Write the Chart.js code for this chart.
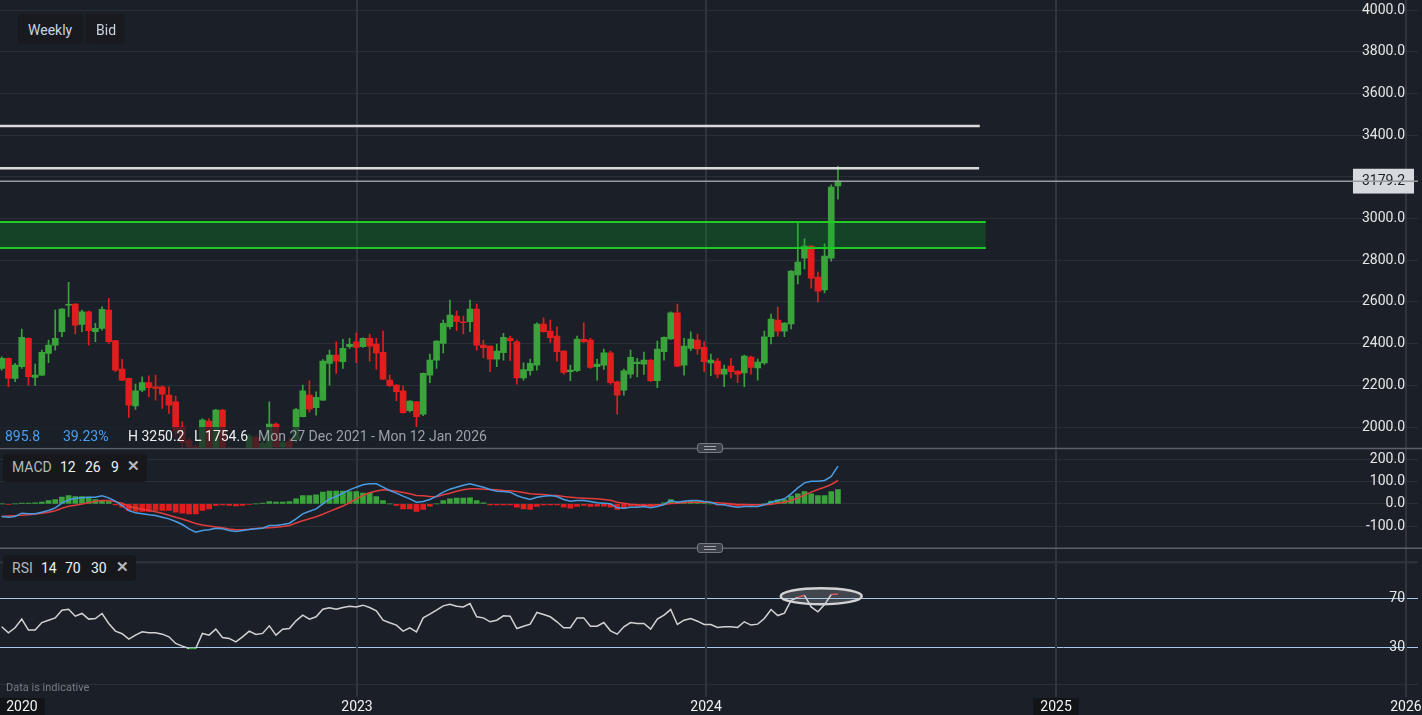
<!DOCTYPE html>
<html>
<head>
<meta charset="utf-8">
<title>Weekly chart</title>
<script src="https://cdn.jsdelivr.net/npm/chart.js@4.4.1/dist/chart.umd.min.js"></script>
<style>
  html, body { margin: 0; padding: 0; background: #1b2028; overflow: hidden; }
  #wrap { position: relative; width: 1422px; height: 715px; font-family: Roboto, "Noto Sans", sans-serif; }
  #chart { position: absolute; left: 0; top: 0; }
  .box { position: absolute; border-radius: 4px; pointer-events: none; }
  .txt { position: absolute; white-space: nowrap; font-size: 14px; line-height: 16px; }
  .handle { position: absolute; left: 697px; width: 24px; height: 8px; background: #3b3f46;
            border: 1px solid #767a81; border-radius: 3px; }
  .handle::before, .handle::after { content: ""; position: absolute; left: 6px; right: 6px; height: 1px; background: #a4a8ae; }
  .handle::before { top: 2px; }
  .handle::after { top: 5px; }
</style>
</head>
<body>
<div id="wrap">
  <canvas id="chart" width="1422" height="715"></canvas>

  <div class="box" style="left:18px;top:14px;width:65px;height:30px;background:#181a1f"></div>
  <div class="txt" style="left:28px;top:22px;color:#cbd4de">Weekly</div>
  <div class="box" style="left:86px;top:14px;width:39px;height:30px;background:#181a1f"></div>
  <div class="txt" style="left:96px;top:22px;color:#cbd4de">Bid</div>

  <div class="box" style="left:0;top:427px;width:477px;height:21px;background:rgba(27,32,40,0.72);border-radius:0"></div>
  <div class="txt" style="left:5px;top:428px;color:#4c9ff0">895.8</div>
  <div class="txt" style="left:63px;top:428px;color:#4c9ff0">39.23%</div>
  <div class="txt" style="left:128px;top:428px;color:#eeeeee">H 3250.2</div>
  <div class="txt" style="left:194px;top:428px;color:#eeeeee">L 1754.6</div>
  <div class="txt" style="left:258px;top:428px;color:#9ba1a8">Mon 27 Dec 2021 - Mon 12 Jan 2026</div>

  <div class="handle" style="top:443px"></div>
  <div class="handle" style="top:543px"></div>

  <div class="box" style="left:3px;top:454px;width:144px;height:28px;background:#16181c"></div>
  <div class="txt" style="left:12px;top:459px;color:#b5b9bf">MACD</div>
  <div class="txt" style="left:60px;top:459px;color:#f0f0f0">12</div>
  <div class="txt" style="left:85px;top:459px;color:#f0f0f0">26</div>
  <div class="txt" style="left:111px;top:459px;color:#f0f0f0">9</div>
  <div class="txt" style="left:127px;top:458px;color:#b5b9bf;font-weight:bold;font-size:15px">✕</div>

  <div class="box" style="left:3px;top:555px;width:133px;height:26px;background:#16181c"></div>
  <div class="txt" style="left:12px;top:560px;color:#b5b9bf">RSI</div>
  <div class="txt" style="left:41px;top:560px;color:#f0f0f0">14</div>
  <div class="txt" style="left:65px;top:560px;color:#f0f0f0">70</div>
  <div class="txt" style="left:91px;top:560px;color:#f0f0f0">30</div>
  <div class="txt" style="left:116px;top:559px;color:#b5b9bf;font-weight:bold;font-size:15px">✕</div>

  <div class="txt" style="left:6px;top:681px;color:#767c84;font-size:11px;line-height:13px">Data is indicative</div>
</div>

<script>
// weekly candles, oldest first (week index 0 = left edge)
const opens = [2281, 2329, 2233, 2289, 2425, 2238, 2249, 2353, 2393, 2457,
  2584, 2590, 2492, 2553, 2457, 2473, 2561, 2414, 2278, 2233,
  2101, 2177, 2213, 2193, 2193, 2153, 2121, 2000, 1935, 1905,
  1880, 2028, 1895, 2081, 1895, 1860, 1800, 1830, 1950, 1885,
  1900, 2014, 1905, 1930, 1940, 2050, 2153, 2093, 2129, 2305,
  2345, 2313, 2385, 2409, 2385, 2425, 2398, 2358, 2225, 2201,
  2173, 2078, 2121, 2062, 2249, 2321, 2401, 2481, 2532, 2505,
  2505, 2566, 2393, 2388, 2326, 2356, 2425, 2409, 2236, 2270,
  2297, 2494, 2460, 2436, 2364, 2265, 2270, 2420, 2417, 2289,
  2297, 2356, 2217, 2177, 2254, 2304, 2302, 2321, 2222, 2361,
  2422, 2548, 2297, 2377, 2417, 2382, 2308, 2316, 2254, 2292,
  2268, 2259, 2336, 2284, 2308, 2433, 2513, 2460, 2494, 2729,
  2810, 2868, 2719, 2657, 2810, 3156];
const highs = [2337, 2332, 2305, 2470, 2428, 2302, 2369, 2417, 2561, 2569,
  2694, 2592, 2561, 2556, 2497, 2577, 2617, 2416, 2325, 2235,
  2206, 2241, 2245, 2249, 2197, 2193, 2149, 2025, 1945, 1915,
  2040, 2041, 2085, 2085, 1905, 1870, 1850, 1965, 1958, 1930,
  2121, 2020, 1935, 1945, 2090, 2201, 2222, 2169, 2324, 2369,
  2409, 2420, 2425, 2452, 2428, 2446, 2425, 2460, 2249, 2203,
  2197, 2127, 2123, 2259, 2350, 2415, 2513, 2609, 2556, 2532,
  2609, 2590, 2417, 2390, 2398, 2449, 2436, 2417, 2308, 2326,
  2500, 2524, 2513, 2481, 2366, 2297, 2436, 2500, 2425, 2326,
  2374, 2364, 2220, 2278, 2369, 2329, 2360, 2324, 2412, 2432,
  2553, 2590, 2425, 2456, 2446, 2408, 2350, 2329, 2297, 2329,
  2270, 2345, 2340, 2326, 2460, 2542, 2575, 2501, 2750, 2978,
  2902, 2870, 2743, 2878, 3161, 3250.2];
const lows = [2273, 2193, 2217, 2281, 2201, 2198, 2246, 2309, 2369, 2433,
  2529, 2446, 2457, 2393, 2409, 2465, 2401, 2265, 2222, 2046,
  2085, 2169, 2145, 2129, 2089, 2065, 1950, 1900, 1880, 1860,
  1860, 1870, 1880, 1860, 1830, 1754.6, 1780, 1820, 1860, 1870,
  1890, 1880, 1890, 1880, 1925, 2048, 2073, 2057, 2127, 2201,
  2257, 2281, 2377, 2309, 2382, 2316, 2277, 2228, 2193, 2126,
  2067, 2073, 2002, 2054, 2213, 2281, 2356, 2470, 2462, 2446,
  2457, 2369, 2332, 2265, 2289, 2321, 2318, 2206, 2225, 2249,
  2273, 2455, 2406, 2316, 2254, 2222, 2265, 2404, 2281, 2225,
  2276, 2206, 2062, 2153, 2236, 2240, 2252, 2217, 2189, 2321,
  2420, 2290, 2249, 2366, 2350, 2265, 2246, 2236, 2193, 2236,
  2213, 2193, 2254, 2225, 2300, 2398, 2436, 2433, 2470, 2686,
  2758, 2666, 2599, 2643, 2796, 3093];
const closes = [2329, 2233, 2297, 2430, 2241, 2249, 2358, 2393, 2425, 2566,
  2587, 2489, 2553, 2462, 2473, 2564, 2409, 2273, 2225, 2105,
  2173, 2213, 2189, 2185, 2158, 2105, 1980, 1925, 1905, 1885,
  2033, 1895, 2081, 1890, 1870, 1800, 1830, 1956, 1880, 1920,
  2014, 1905, 1925, 1900, 2084, 2173, 2086, 2142, 2316, 2345,
  2316, 2377, 2396, 2382, 2425, 2388, 2356, 2230, 2198, 2169,
  2069, 2125, 2050, 2257, 2321, 2412, 2497, 2537, 2505, 2500,
  2566, 2393, 2380, 2326, 2364, 2430, 2414, 2236, 2276, 2305,
  2494, 2457, 2428, 2361, 2262, 2273, 2422, 2409, 2286, 2302,
  2356, 2213, 2153, 2270, 2334, 2312, 2321, 2222, 2374, 2430,
  2548, 2292, 2388, 2422, 2374, 2313, 2321, 2254, 2278, 2265,
  2254, 2340, 2286, 2312, 2432, 2518, 2460, 2499, 2748, 2791,
  2868, 2714, 2652, 2820, 3151, 3179.2];

// MACD 12 26 9
const macdLine = [-57, -60, -57, -42, -45, -45, -37.5, -30, -18, 3,
  18, 25.5, 27, 30, 30, 36, 27, 12, -7.5, -30,
  -40.5, -45, -49.5, -52.5, -60, -67.5, -79.5, -93, -112.5, -127.5,
  -120, -117, -109.5, -112.5, -120, -124.5, -120, -115.5, -112.5, -109.5,
  -97.5, -97.5, -93, -87, -67.5, -45, -33, -22.5, 0, 22.5,
  33, 48, 63, 75, 85.5, 90, 90, 75, 60, 48,
  34.5, 22.5, 7.5, 10.5, 19.5, 34.5, 52.5, 66, 75, 84,
  90, 82.5, 75, 64.5, 57, 55.5, 52.5, 37.5, 27, 19.5,
  30, 34.5, 37.5, 33, 19.5, 12, 15, 15, 10.5, 4.5,
  3, 0, -18, -19.5, -15, -15, -12, -18, -12, -3,
  15, 7.5, 12, 15, 15, 10.5, 7.5, -3, -4.5, -10.5,
  -15, -12, -12, -12, -4.5, 7.5, 15, 22.5, 45, 72,
  94.5, 102, 102, 105, 123, 169.5];
const signalLine = [-57, -55, -53, -51, -49, -46, -42, -38, -31, -20,
  -11, -6, -1, 5, 12, 15, 15, 10, 3, -12,
  -19, -24, -30, -36, -42, -51, -60, -68, -78, -88,
  -95, -100, -104, -108, -113, -116, -116, -114, -111, -109,
  -107, -105, -102, -97, -86, -76, -67, -58, -47, -34,
  -22, -10, 5, 22, 38, 50, 58, 63, 61, 57,
  51, 45, 38, 36, 33, 31.5, 40.5, 48, 57, 63,
  67.5, 67.5, 66, 64.5, 63, 60, 58.5, 55.5, 51, 45,
  43.5, 42, 39, 37.5, 33, 30, 27, 25.5, 24, 22.5,
  19.5, 16.5, 7.5, 3, -1.5, -4.5, -6, -7.5, -4.5, -3,
  1.5, 3, 6, 7.5, 7.5, 7.5, 6, 4.5, 3, 0,
  -3, -3, -4.5, -4.5, -4.5, -1.5, 3, 7.5, 15, 25.5,
  40.5, 52.5, 64.5, 75, 87, 105];
const macdHist = [0, -2, 0, 3, 3, 4.5, 7.5, 15, 19.5, 30,
  37.5, 33, 33, 30, 19.5, 15, 10.5, -4.5, -15, -30,
  -34.5, -34.5, -34.5, -30, -30, -30, -37.5, -42, -45, -45,
  -30, -22.5, -7.5, -4.5, -7.5, -9, -7.5, -3, 0, 3,
  10.5, 7.5, 7.5, 10.5, 22.5, 37.5, 37.5, 40.5, 52.5, 57,
  57, 57, 55.5, 55.5, 48, 48, 33, 15, 0, -7.5,
  -22.5, -22.5, -34.5, -25, -10, 0, 15, 22.5, 25.5, 25.5,
  27, 15, 4.5, -4.5, -4.5, -4.5, -4.5, -15, -22.5, -25.5,
  -12, -4.5, -4.5, -4.5, -15, -19.5, -12, -7.5, -12, -10.5,
  -10.5, -15, -25.5, -18, -10.5, -10.5, -7.5, -12, -4.5, 4.5,
  19.5, 10.5, 10.5, 12, 10.5, 4.5, 0, -4.5, -4.5, -7.5,
  -10.5, -7.5, -7.5, -4.5, 0, 12, 18, 19.5, 34.5, 45,
  55.5, 45, 37.5, 37.5, 55.5, 64.5];

// RSI 14
const rsiLine = [46.8, 41.9, 46.0, 53.1, 44.1, 44.1, 50.3, 52.2, 54.1, 60.4,
  61.2, 55.5, 57.7, 53.1, 53.6, 57.7, 49.5, 43.3, 41.1, 36.7,
  40.0, 42.7, 41.9, 41.9, 40.8, 38.6, 33.2, 31.0, 29.1, 29.1,
  41.4, 40.0, 44.9, 38.1, 37.3, 34.5, 38.6, 43.3, 40.5, 41.4,
  47.6, 40.0, 44.9, 45.4, 51.7, 56.3, 53.1, 55.0, 61.2, 62.3,
  61.2, 62.6, 63.7, 63.1, 64.5, 62.6, 59.9, 52.2, 50.1, 48.2,
  43.3, 46.0, 42.7, 54.1, 57.1, 60.4, 63.9, 65.3, 63.7, 63.1,
  65.8, 55.0, 54.1, 50.9, 52.2, 55.8, 55.5, 45.4, 47.3, 49.0,
  58.5, 56.9, 55.0, 50.9, 46.0, 46.0, 54.1, 54.1, 47.3, 47.3,
  50.3, 43.5, 40.8, 46.8, 50.3, 49.5, 49.5, 44.9, 53.1, 56.3,
  60.9, 48.7, 52.2, 53.6, 51.4, 48.7, 48.7, 46.3, 46.8, 46.8,
  46.3, 50.9, 48.2, 49.0, 53.6, 60.9, 56.0, 58.0, 68.5, 70.8,
  72.6, 63.1, 59.1, 65.0, 73.2, 73.7];

// drawn levels
const lastPrice = 3179.2;
const resistanceLevels = [3444, 3241];
const supportZone = [2858, 2983];
const levelEndWeek = [146.2, 146.1];
const zoneEndWeek = 147.1;
const rsiMark = { week: 122.5, value: 71.8 };

// axes
const yearTickPos = [3.03, 53.11, 105.28, 157.6, 209.9];
const yearTickLabels = ['2020', '2023', '2024', '2025', '2026'];
const priceTickValues = [2000, 2200, 2400, 2600, 2800, 3000, 3179.2, 3200, 3400, 3600, 3800, 4000];
const priceTickLabels = ['2000.0', '2200.0', '2400.0', '2600.0', '2800.0', '3000.0', '3179.2', '', '3400.0', '3600.0', '3800.0', '4000.0'];
const macdTickValues = [-100, 0, 100, 200];
const macdTickLabels = ['-100.0', '0.0', '100.0', '200.0'];
const rsiTickValues = [0, 30, 70, 100];
const rsiTickLabels = ['', '30', '70', ''];

const FONT = 'Roboto, "Noto Sans", sans-serif';
const UP = '#3aa33c';
const DOWN = '#e21d1d';
const GRID = '#2a2f37';
const X_MIN = -0.254;
const X_MAX = X_MIN + 1418 / 6.69;

const weeks = opens.map((_, i) => i);
const candleColors = weeks.map(i => closes[i] >= opens[i] ? UP : DOWN);
const hLine = (y, x0, x1) => [{ x: x0, y: y }, { x: x1, y: y }];

function fixedTicks(values) {
  return scale => { scale.ticks = values.map(v => ({ value: v })); };
}
function paneFit(scale) {
  scale.width = 4;
  scale.paddingTop = 0;
  scale.paddingBottom = 0;
}

// keep each dataset inside its own pane
const paneClip = {
  id: 'paneClip',
  beforeDatasetDraw(chart, args) {
    const s = chart.scales[args.meta.yAxisID];
    const a = chart.chartArea;
    chart.ctx.save();
    chart.ctx.beginPath();
    chart.ctx.rect(a.left, s.top, a.right - a.left, s.bottom - s.top);
    chart.ctx.clip();
  },
  afterDatasetDraw(chart) {
    chart.ctx.restore();
  }
};

const paneDecor = {
  id: 'paneDecor',
  afterDatasetsDraw(chart) {
    const { ctx, scales } = chart;
    ctx.save();
    ctx.strokeStyle = '#5c6068';
    ctx.lineWidth = 1.5;
    [scales.macd.top, scales.rsi.top].forEach(y => {
      ctx.beginPath();
      ctx.moveTo(0, y);
      ctx.lineTo(chart.width, y);
      ctx.stroke();
    });
    // ellipse drawn round the overbought RSI
    const cx = scales.x.getPixelForValue(rsiMark.week);
    const cy = scales.rsi.getPixelForValue(rsiMark.value);
    ctx.beginPath();
    ctx.ellipse(cx, cy, 40.5, 8, 0, 0, Math.PI * 2);
    ctx.fillStyle = 'rgba(200,205,215,0.22)';
    ctx.fill();
    ctx.lineWidth = 2.5;
    ctx.strokeStyle = '#d2d2d2';
    ctx.stroke();
    ctx.restore();
  }
};

const datasets = [
  { type: 'line', yAxisID: 'price', data: hLine(lastPrice, X_MIN, X_MAX),
    borderColor: '#969aa1', borderWidth: 1.5, pointRadius: 0, order: 0 },
  ...resistanceLevels.map((lv, k) => ({ type: 'line', yAxisID: 'price', data: hLine(lv, X_MIN, levelEndWeek[k]),
    borderColor: '#dadada', borderWidth: 2.5, pointRadius: 0, order: 0 })),
  { type: 'line', yAxisID: 'price', data: hLine(supportZone[1], X_MIN, zoneEndWeek),
    borderColor: '#22cc22', borderWidth: 2, pointRadius: 0, fill: '+1', backgroundColor: 'rgba(0,190,40,0.22)', order: 1 },
  { type: 'line', yAxisID: 'price', data: hLine(supportZone[0], X_MIN, zoneEndWeek),
    borderColor: '#22cc22', borderWidth: 2, pointRadius: 0, order: 1 },
  { type: 'bar', yAxisID: 'price', data: weeks.map(i => ({ x: i, y: [lows[i], highs[i]] })),
    backgroundColor: candleColors, barThickness: 1, grouped: false, order: 4 },
  { type: 'bar', yAxisID: 'price', data: weeks.map(i => ({ x: i, y: [opens[i], closes[i]] })),
    backgroundColor: candleColors, barThickness: 6, minBarLength: 1, grouped: false, order: 3 },
  { type: 'bar', yAxisID: 'macd', data: weeks.map(i => ({ x: i, y: macdHist[i] })),
    backgroundColor: macdHist.map(v => v >= 0 ? UP : DOWN), barThickness: 5, grouped: false, order: 6 },
  { type: 'line', yAxisID: 'macd', data: weeks.map(i => ({ x: i, y: signalLine[i] })),
    borderColor: '#e03c3c', borderWidth: 1.5, pointRadius: 0, order: 5 },
  { type: 'line', yAxisID: 'macd', data: weeks.map(i => ({ x: i, y: macdLine[i] })),
    borderColor: '#4b9be2', borderWidth: 1.5, pointRadius: 0, order: 4.5 },
  { type: 'line', yAxisID: 'rsi', data: weeks.map(i => ({ x: i, y: rsiLine[i] })),
    borderColor: '#d2d2d2', borderWidth: 1.5, pointRadius: 0, order: 0,
    segment: {
      borderColor: c => (c.p0.parsed.y > 70 && c.p1.parsed.y > 70) ? '#e03c3c'
        : (c.p0.parsed.y < 30 && c.p1.parsed.y < 30) ? '#3aa33c' : undefined
    } }
];

const tickFont = { family: FONT, size: 14 };

new Chart(document.getElementById('chart'), {
  type: 'bar',
  data: { datasets: datasets },
  plugins: [paneClip, paneDecor],
  options: {
    responsive: false,
    animation: false,
    events: [],
    layout: { padding: 0 },
    plugins: { legend: { display: false }, tooltip: { enabled: false } },
    scales: {
      price: {
        type: 'linear', position: 'right', stack: 'panes', stackWeight: 448.5,
        min: 1897, max: 4048, beginAtZero: false,
        afterBuildTicks: fixedTicks(priceTickValues), afterFit: paneFit,
        border: { display: false },
        grid: { drawTicks: false, color: c => c.tick && c.tick.value === lastPrice ? 'rgba(0,0,0,0)' : GRID },
        ticks: {
          mirror: true, padding: -13, autoSkip: false, font: tickFont,
          color: c => c.tick && c.tick.value === lastPrice ? '#1b2028' : '#e6e6e6',
          showLabelBackdrop: true,
          backdropColor: c => c.tick && c.tick.value === lastPrice ? '#d6d9de' : 'rgba(0,0,0,0)',
          backdropPadding: { x: 9, y: 4 },
          callback: (v, i) => priceTickLabels[i]
        }
      },
      macd: {
        type: 'linear', position: 'right', stack: 'panes', stackWeight: 99.8,
        min: -200, max: 249, beginAtZero: false,
        afterBuildTicks: fixedTicks(macdTickValues), afterFit: paneFit,
        border: { display: false },
        grid: { drawTicks: false, color: GRID },
        ticks: { mirror: true, padding: -13, autoSkip: false, font: tickFont, color: '#e6e6e6',
          callback: (v, i) => macdTickLabels[i] }
      },
      rsi: {
        type: 'linear', position: 'right', stack: 'panes', stackWeight: 148.7,
        min: -10.6, max: 111, beginAtZero: false,
        afterBuildTicks: fixedTicks(rsiTickValues), afterFit: paneFit,
        border: { display: false },
        grid: {
          drawTicks: false,
          color: c => c.tick && (c.tick.value === 30 || c.tick.value === 70) ? '#a9c9ea' : '#2c3038',
          lineWidth: c => c.tick && c.tick.value === 100 ? 2.5 : 1
        },
        ticks: { mirror: true, padding: -13, autoSkip: false, font: tickFont, color: '#e6e6e6',
          callback: (v, i) => rsiTickLabels[i] }
      },
      x: {
        type: 'linear', position: 'bottom', min: X_MIN, max: X_MAX, offset: false,
        afterBuildTicks: fixedTicks(yearTickPos),
        afterFit: scale => { scale.height = 18; scale.paddingLeft = 0; scale.paddingRight = 0; },
        border: { display: false },
        grid: {
          offset: false, drawTicks: false, lineWidth: 2,
          color: c => c.tick && c.tick.value === yearTickPos[0] ? 'rgba(0,0,0,0)' : '#30353d'
        },
        ticks: {
          autoSkip: false, maxRotation: 0, padding: 2, font: tickFont, color: '#f2f2f2',
          showLabelBackdrop: true,
          backdropColor: c => c.tick && (c.tick.value === yearTickPos[0] || c.tick.value === yearTickPos[3]) ? '#121418' : 'rgba(0,0,0,0)',
          backdropPadding: { x: 7, y: 1 },
          callback: (v, i) => yearTickLabels[i]
        }
      }
    }
  }
});
</script>
</body>
</html>
